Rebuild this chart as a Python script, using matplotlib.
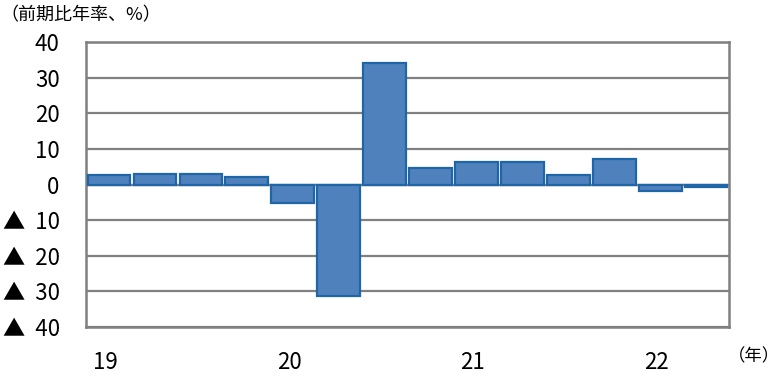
import matplotlib
matplotlib.use("Agg")
import matplotlib.pyplot as plt

plt.rcParams["font.family"] = ["Noto Sans CJK JP", "DejaVu Sans"]

# 四半期ごとの実質GDP成長率（前期比年率、%）2019Q1〜2022Q2
quarters = ["19Q1", "19Q2", "19Q3", "19Q4",
            "20Q1", "20Q2", "20Q3", "20Q4",
            "21Q1", "21Q2", "21Q3", "21Q4",
            "22Q1", "22Q2"]
growth = [2.6, 2.9, 2.9, 2.0, -5.2, -31.3, 34.0, 4.5, 6.4, 6.4, 2.6, 7.2, -1.7, -0.7]

year_labels = ["19", "20", "21", "22"]
y_ticks = [40, 30, 20, 10, 0, -10, -20, -30, -40]

GRAY = "#808080"

fig = plt.figure(figsize=(7.8, 3.78), dpi=100)
ax = fig.add_axes([0.1103, 0.1349, 0.8244, 0.7540])

x = list(range(len(quarters)))
ax.bar(x, growth, width=0.93, color="#4F81BD", edgecolor="#1F66A8",
       linewidth=1.6, zorder=3)

ax.set_xlim(-0.5, len(quarters) - 0.5)
ax.set_ylim(-40, 40)

ax.set_yticks(y_ticks)
ax.set_yticklabels([f"{v}" if v >= 0 else f"▲  {-v}" for v in y_ticks],
                   fontsize=16)
ax.yaxis.grid(True, color=GRAY, linewidth=1.6, zorder=1)
ax.axhline(0, color=GRAY, linewidth=1.6, zorder=2)

ax.set_xticks([x[i] - 0.08 for i in range(0, len(quarters), 4)])
ax.set_xticklabels(year_labels, fontsize=16)

ax.tick_params(axis="both", length=0)
ax.tick_params(axis="x", pad=17)
ax.tick_params(axis="y", pad=19)
for s in ax.spines.values():
    s.set_color(GRAY)
    s.set_linewidth(1.8)

fig.text(0.0, 0.96, "（前期比年率、%）", fontsize=13, ha="left", va="center")
fig.text(0.966, 0.058, "（年）", fontsize=12.5, ha="center", va="center")

fig.savefig("out.png", dpi=100)
